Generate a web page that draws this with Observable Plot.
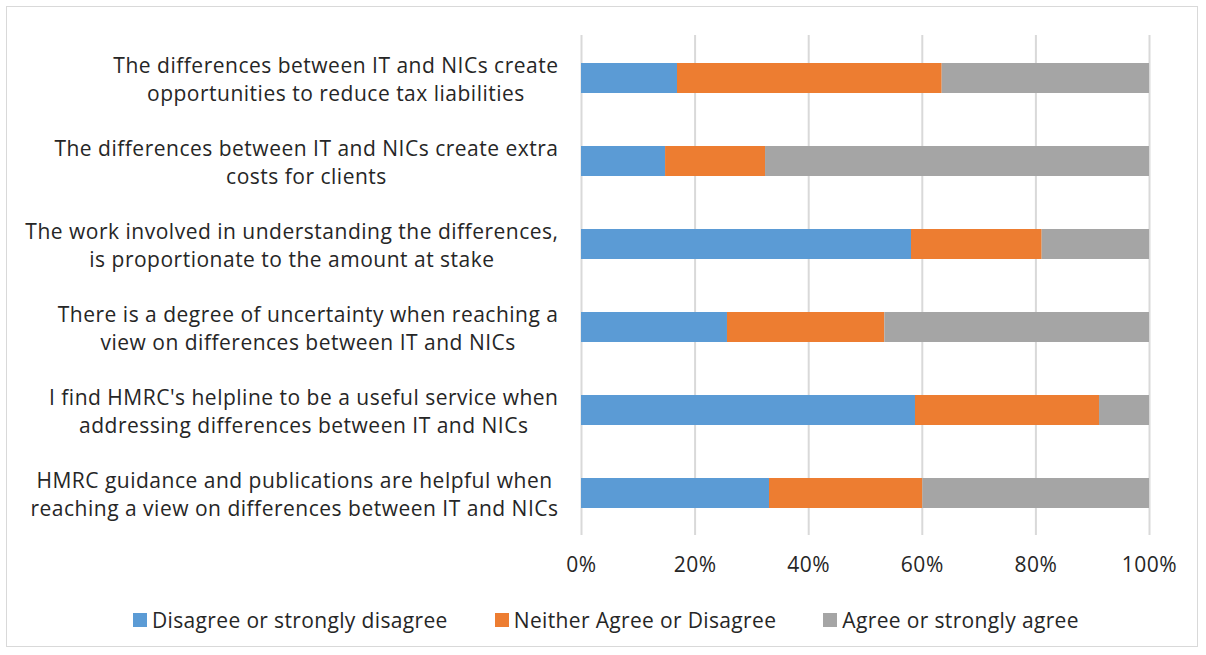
<!DOCTYPE html>
<html>
<head>
<meta charset="utf-8">
<script src="https://cdn.jsdelivr.net/npm/d3@7"></script>
<script src="https://cdn.jsdelivr.net/npm/@observablehq/plot@0.6"></script>
<style>
  html, body { margin: 0; padding: 0; background: #fff; }
  #frame {
    position: absolute; left: 6px; top: 6px; width: 1192px; height: 641px;
    border: 1px solid #d9d9d9; box-sizing: border-box;
  }
  #chart { position: absolute; left: 0; top: 0; }
  #legend {
    position: absolute; left: 133px; top: 605px; height: 30px;
    display: flex; align-items: center; gap: 47px;
    font-family: "Open Sans", sans-serif; font-size: 21px; color: #262626;
    letter-spacing: 0.35px; white-space: nowrap;
  }
  #legend .item { display: flex; align-items: center; }
  #legend .sw { width: 14px; height: 14px; margin-right: 5px; display: inline-block; }
</style>
</head>
<body>
<div id="frame"></div>
<div id="chart"></div>
<div id="legend"></div>
<script>
// Survey statements, top to bottom
const statements = [
  "The differences between IT and NICs create\nopportunities to reduce tax liabilities",
  "The differences between IT and NICs create extra\ncosts for clients",
  "The work involved in understanding the differences,\nis proportionate to the amount at stake",
  "There is a degree of uncertainty when reaching a\nview on differences between IT and NICs",
  "I find HMRC's helpline to be a useful service when\naddressing differences between IT and NICs",
  "HMRC guidance and publications are helpful when\nreaching a view on differences between IT and NICs"
];

// Response categories and their shares (%)
const responses = ["Disagree or strongly disagree", "Neither Agree or Disagree", "Agree or strongly agree"];
const disagree = [16.9, 14.8, 58.1, 25.7, 58.8, 33.1];
const neither  = [46.6, 17.6, 23.0, 27.7, 32.4, 27.0];
const agree    = [36.5, 67.6, 18.9, 46.6, 8.8, 39.9];

const xTicks = [0, 20, 40, 60, 80, 100];
const colors = ["#5b9bd5", "#ed7d31", "#a5a5a5"];

const seriesValues = [disagree, neither, agree];
const rows = [];
statements.forEach((s, i) => {
  responses.forEach((r, j) => rows.push({statement: s, response: r, value: seriesValues[j][i]}));
});

const fontFamily = "'Open Sans', sans-serif";
const fontSize = 21;
const letterSpacing = 0.5;
const textColor = "#262626";

// Category labels are wrapped and centred within a right-aligned block,
// so measure the widest line of each label to place its centre.
const ctx = document.createElement("canvas").getContext("2d");
ctx.font = `${fontSize}px ${fontFamily}`;
const lineWidth = line => ctx.measureText(line).width + letterSpacing * line.length;
const labelWidth = s => Math.max(...s.split("\n").map(lineWidth));
const labelGap = 23;

const labelMarks = statements.map(s =>
  Plot.text([s], {
    y: d => d,
    text: d => d,
    frameAnchor: "left",
    textAnchor: "middle",
    dx: -(labelGap + labelWidth(s) / 2),
    fontSize,
    lineHeight: 1.333,
    fill: textColor
  })
);

const chart = Plot.plot({
  width: 1206,
  height: 600,
  marginTop: 35,
  marginBottom: 65,
  marginLeft: 581,
  marginRight: 57,
  style: {fontFamily, fontSize: fontSize + "px", letterSpacing: letterSpacing + "px", color: textColor, background: "transparent"},
  x: {domain: [0, 100], ticks: xTicks, tickFormat: d => d + "%", label: null},
  y: {domain: statements, label: null, paddingInner: 0.64, paddingOuter: 0.32, axis: null},
  color: {domain: responses, range: colors},
  marks: [
    Plot.gridX(xTicks, {stroke: "#d9d9d9", strokeOpacity: 1, strokeWidth: 2}),
    Plot.barX(rows, Plot.stackX({
      x: "value", y: "statement", fill: "response", order: responses
    })),
    Plot.axisX({ticks: xTicks, tickFormat: d => d + "%", tickSize: 0, tickPadding: 22, fontSize, fill: textColor, label: null}),
    ...labelMarks
  ]
});
document.getElementById("chart").appendChild(chart);

// Legend below the chart
const legend = document.getElementById("legend");
responses.forEach((r, j) => {
  const item = document.createElement("span");
  item.className = "item";
  const sw = document.createElement("span");
  sw.className = "sw";
  sw.style.background = colors[j];
  item.appendChild(sw);
  item.appendChild(document.createTextNode(r));
  legend.appendChild(item);
});
</script>
</body>
</html>
